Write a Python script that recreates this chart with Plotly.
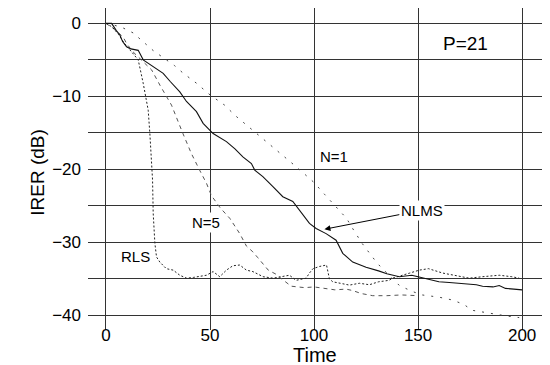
import plotly.graph_objects as go

# ---- data ----
nlms_t = [0, 2.7, 5, 6.7, 8, 9.9, 12, 15.5, 17.9, 22, 27.5, 31, 35.5, 38.7, 43.5, 46.7, 51.5, 57.9, 62, 65.8,
          69.9, 71.5, 75.4, 80, 85, 89.8, 93, 97.8, 101, 105.8, 110.6, 113.8, 118.6, 125, 131, 135, 141, 147,
          150, 155, 160, 165, 170, 175, 178, 181, 186, 189, 192, 196, 200]
nlms_v = [0, 0, -1.0, -1.6, -2.5, -3.2, -3.5, -3.7, -5.0, -5.8, -6.85, -8.0, -9.4, -10.7, -12.1, -13.7, -15.1,
          -16.2, -17.2, -18.3, -19.2, -20.1, -21.0, -22.3, -23.75, -24.4, -25.6, -27.4, -28.1, -28.8, -29.7,
          -31.5, -32.7, -33.4, -33.9, -34.3, -34.7, -34.5, -34.7, -35.1, -35.4, -35.5, -35.6, -35.7, -35.8,
          -36.0, -36.1, -35.9, -36.3, -36.4, -36.5]

rls_t = [0, 3, 6, 9, 12, 15.5, 17.9, 20.3, 21.1, 21.9, 22.4, 22.7, 23.5, 24.3, 25.9, 29, 32.3, 35.5, 38.7, 42,
         45, 48.3, 51.5, 54.7, 57.9, 61, 64.3, 67.5, 70.6, 75.5, 80.3, 85, 88.2, 91.4, 96.2, 97.8, 99.5, 102.6,
         106, 107.4, 109, 112.6, 117, 121.8, 126.6, 131, 136, 137.8, 142, 146, 150.6, 155, 161.8, 168, 174.6,
         181, 189, 195, 198.6]
rls_v = [0, -0.5, -1.5, -2.8, -3.8, -5.0, -8.2, -11.9, -15.1, -19.6, -21.5, -26.0, -30.1, -32.0, -32.7, -33.6,
         -33.8, -34.5, -34.9, -34.8, -34.7, -34.5, -34.0, -34.7, -33.8, -33.2, -33.1, -33.8, -34.0, -34.7,
         -34.9, -34.7, -34.5, -35.2, -34.9, -34.2, -33.6, -33.3, -33.1, -35.0, -35.4, -35.6, -35.85, -35.6,
         -35.8, -35.4, -35.2, -34.9, -34.5, -34.2, -33.8, -33.6, -34.2, -34.5, -34.9, -34.7, -34.5, -34.7,
         -34.9]

n5_t = [0, 4, 8.3, 10, 13, 17, 22, 26, 31.5, 37, 41, 45, 48.3, 50.7, 55, 59.5, 64.3, 67.5, 70.6, 73, 78, 82,
        84, 89, 95.5, 100, 105, 110, 115.4, 118.6, 122.6, 125.8, 128.2, 135, 142, 150]
n5_v = [0, -0.8, -1.9, -2.8, -3.9, -5.0, -6.4, -8.5, -11.2, -15.1, -17.8, -20.1, -21.9, -23.6, -25.3, -26.7,
        -28.8, -30.5, -31.3, -32.1, -33.8, -34.4, -34.9, -36.0, -36.2, -36.1, -36.3, -36.5, -36.4, -36.6,
        -37.0, -37.2, -37.3, -37.3, -37.2, -37.3]

n1_t = [0, 3.4, 8, 13, 17, 22.6, 28, 33, 37, 43.5, 50, 57, 62, 70, 75.5, 80, 85, 90, 94.5, 100, 105, 111,
        115.6, 119, 123, 127, 130.5, 134, 137.6, 141, 144, 147, 152, 160, 166.6, 172, 176, 182, 188, 193, 198.6]
n1_v = [0, -0.2, -0.6, -1.3, -2.3, -3.7, -4.8, -5.8, -6.8, -8.2, -9.8, -11.2, -12.6, -14.5, -15.8, -16.8,
        -18.1, -19.3, -20.4, -21.8, -23.4, -25.2, -26.7, -28.3, -30.1, -31.6, -32.9, -33.9, -35.0, -35.9,
        -36.3, -36.7, -37.2, -37.5, -37.9, -38.5, -39.3, -39.6, -39.9, -40.1, -40.3]

x_ticks = [0, 50, 100, 150, 200]
y_ticks = [0, -10, -20, -30, -40]

FONT = "Liberation Sans, Arial, Helvetica, sans-serif"
GRID = "#333333"

fig = go.Figure()
fig.add_trace(go.Scatter(x=n1_t, y=n1_v, mode="lines", name="N=1",
                         line=dict(color="#444444", width=1, dash="2px,7px")))
fig.add_trace(go.Scatter(x=n5_t, y=n5_v, mode="lines", name="N=5",
                         line=dict(color="#555555", width=1, dash="4px,4px")))
fig.add_trace(go.Scatter(x=rls_t, y=rls_v, mode="lines", name="RLS",
                         line=dict(color="#222222", width=1, dash="2px,2px")))
fig.add_trace(go.Scatter(x=nlms_t, y=nlms_v, mode="lines", name="NLMS",
                         line=dict(color="#111111", width=1.1)))

ann_font = dict(family=FONT, size=15, color="black")
annotations = [
    dict(x=173, y=-2.7, text="P=21", showarrow=False, font=dict(family=FONT, size=19, color="black")),
    dict(x=109.5, y=-18.3, text="N=1", showarrow=False, font=ann_font),
    dict(x=48.3, y=-27.3, text="N=5", showarrow=False, font=ann_font, bgcolor="white", borderpad=1),
    dict(x=14.3, y=-32.0, text="RLS", showarrow=False, font=ann_font),
    dict(x=105, y=-28.2, ax=151.8, ay=-25.6, axref="x", ayref="y", text="NLMS", showarrow=True,
         arrowhead=2, arrowsize=1.2, arrowwidth=1, arrowcolor="black", font=ann_font,
         bgcolor="white", borderpad=1),
    dict(x=100.5, y=-0.079, xref="x", yref="paper", text="Time", showarrow=False, borderpad=0,
         font=dict(family=FONT, size=20, color="black"), yanchor="middle"),
    dict(x=-0.138, y=-20.4, xref="paper", yref="y", text="IRER (dB)", showarrow=False, textangle=-90,
         font=dict(family=FONT, size=19, color="black")),
]

# the page places the figure 8px from the top-left corner, so the figure is 8px smaller
fig.update_layout(
    width=542, height=357,
    margin=dict(l=80, r=5, t=0, b=35),
    paper_bgcolor="white", plot_bgcolor="white",
    showlegend=False,
    font=dict(family=FONT, size=17, color="black"),
    annotations=annotations,
    xaxis=dict(range=[-8.63, 211.0], tickvals=x_ticks, ticktext=[str(v) for v in x_ticks],
               showgrid=True, gridcolor=GRID, gridwidth=1, zeroline=False, showline=False,
               ticks="", tickfont=dict(family=FONT, size=17), ticklabelstandoff=-7, automargin=False),
    yaxis=dict(range=[-42.0, 2.1], tickmode="linear", tick0=0, dtick=10,
               showgrid=True, gridcolor=GRID, gridwidth=1, zeroline=False, showline=False,
               ticks="", tickfont=dict(family=FONT, size=17), ticklabelstandoff=6, automargin=False,
               minor=dict(tickmode="linear", tick0=0, dtick=5, showgrid=True, gridcolor=GRID, gridwidth=1)),
)

fig.write_html("out.html")
